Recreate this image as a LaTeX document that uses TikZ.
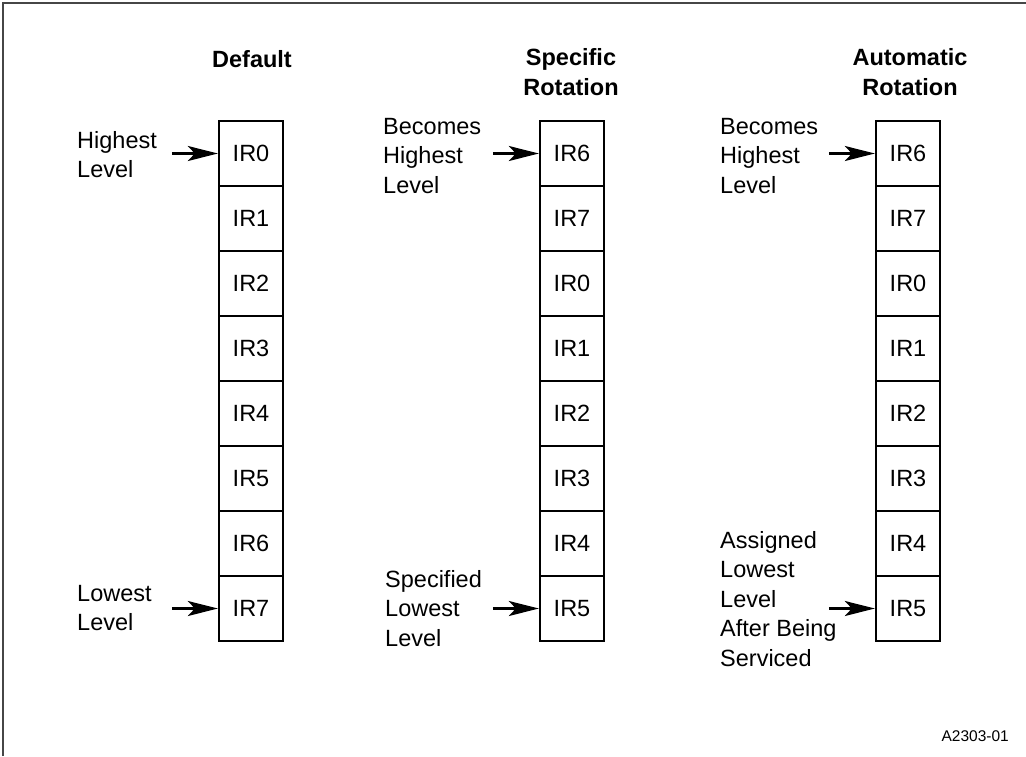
\documentclass[tikz,border=0pt]{standalone}
\usepackage{fontspec}
\setmainfont{Liberation Sans}
\usetikzlibrary{arrows.meta}
\definecolor{framegray}{RGB}{70,70,70}
\begin{document}
\begin{tikzpicture}[x=1pt,y=-1pt,
  txt/.style={font=\fontsize{23.5}{29.5}\selectfont, inner sep=0pt},
  hdr/.style={font=\fontsize{23.5}{30}\selectfont\bfseries, inner sep=0pt, align=center, anchor=north},
  lbl/.style={txt, align=left, anchor=north west},
  cell/.style={draw, line width=2.3pt, minimum width=64pt, minimum height=65pt, inner sep=0pt, font=\fontsize{23.5}{29.5}\selectfont},
  pointer/.style={line width=2.3pt, -{Stealth[length=30pt,width=15pt,inset=7pt]}},
  frame/.style={line width=2.2pt, draw=framegray}]
\useasboundingbox (0,0) rectangle (1026,756);
\draw[frame] (3,756) -- (3,3) -- (1026,3);
% headers
\node[hdr] (hd) at (252,50) {Default};
\node[hdr] (hs) at (571,48) {Specific\\Rotation};
\node[hdr] (ha) at (910,48) {Automatic\\Rotation};
% columns
\foreach \t [count=\i from 0] in {IR0,IR1,IR2,IR3,IR4,IR5,IR6,IR7}
  \node[cell] (d\i) at (251,{153.5+65*\i}) {\t};
\foreach \t [count=\i from 0] in {IR6,IR7,IR0,IR1,IR2,IR3,IR4,IR5}
  \node[cell] (s\i) at (572,{153.5+65*\i}) {\t};
\foreach \t [count=\i from 0] in {IR6,IR7,IR0,IR1,IR2,IR3,IR4,IR5}
  \node[cell] (a\i) at (908,{153.5+65*\i}) {\t};
% labels
\node[lbl] (dhigh) at (77,131) {Highest\\Level};
\node[lbl] (dlow) at (77,585) {Lowest\\Level};
\node[lbl] (sbec) at (383,118) {Becomes\\Highest\\Level};
\node[lbl] (sspec) at (385,570) {Specified\\Lowest\\Level};
\node[lbl] (abec) at (720,118) {Becomes\\Highest\\Level};
\node[lbl] (aass) at (720,531) {Assigned\\Lowest\\Level\\After Being\\Serviced};
% arrow starts
\coordinate (dhs) at ([xshift=-46pt]d0.west);
\coordinate (dls) at ([xshift=-46pt]d7.west);
\coordinate (shs) at ([xshift=-46pt]s0.west);
\coordinate (sls) at ([xshift=-46pt]s7.west);
\coordinate (ahs) at ([xshift=-46pt]a0.west);
\coordinate (als) at ([xshift=-46pt]a7.west);
\draw[pointer] (dhs) -- (d0.west);
\draw[pointer] (dls) -- (d7.west);
\draw[pointer] (shs) -- (s0.west);
\draw[pointer] (sls) -- (s7.west);
\draw[pointer] (ahs) -- (a0.west);
\draw[pointer] (als) -- (a7.west);
% figure id
\node[font=\fontsize{15.5}{18}\selectfont, inner sep=0pt, anchor=base east] (fid) at (1009,741) {A2303-01};
\end{tikzpicture}
\end{document}
